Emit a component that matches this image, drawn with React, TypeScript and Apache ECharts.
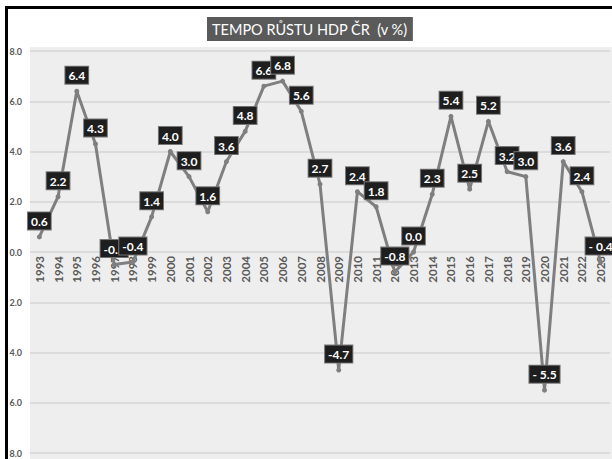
import React, { useEffect, useRef } from "react";
import * as echarts from "echarts";

const years = [
  "1993", "1994", "1995", "1996", "1997", "1998", "1999", "2000", "2001", "2002",
  "2003", "2004", "2005", "2006", "2007", "2008", "2009", "2010", "2011", "2012",
  "2013", "2014", "2015", "2016", "2017", "2018", "2019", "2020", "2021", "2022", "2023",
];
const growth = [
  0.6, 2.2, 6.4, 4.3, -0.5, -0.4, 1.4, 4.0, 3.0, 1.6,
  3.6, 4.8, 6.6, 6.8, 5.6, 2.7, -4.7, 2.4, 1.8, -0.8,
  0.0, 2.3, 5.4, 2.5, 5.2, 3.2, 3.0, -5.5, 3.6, 2.4, -0.4,
];
const pointLabels = [
  "0.6", "2.2", "6.4", "4.3", "-0.5", "-0.4", "1.4", "4.0", "3.0", "1.6",
  "3.6", "4.8", "6.6", "6.8", "5.6", "2.7", "-4.7", "2.4", "1.8", "-0.8",
  "0.0", "2.3", "5.4", "2.5", "5.2", "3.2", "3.0", "- 5.5", "3.6", "2.4", "- 0.4",
];
const titleText = "TEMPO RŮSTU HDP ČR  (v %)";

export default function App() {
  const ref = useRef<HTMLDivElement>(null);
  useEffect(() => {
    if (!ref.current) return;
    const chart = echarts.init(ref.current, null, { renderer: "svg" });
    chart.setOption({
      animation: false,
      backgroundColor: "#ffffff",
      textStyle: { fontFamily: "Lato" },
      title: {
        text: titleText,
        left: 207,
        top: 17,
        padding: [5, 5, 4, 5],
        backgroundColor: "#5a5a5a",
        textStyle: { color: "#ffffff", fontSize: 14.5, fontWeight: "normal", fontFamily: "Lato" },
      },
      graphic: [
        {
          type: "rect",
          z: -10,
          silent: true,
          shape: { x: 30, y: 47, width: 590, height: 420 },
          style: { fill: "#eeeeee" },
        },
        {
          type: "line",
          z: 100,
          shape: { x1: 5, y1: 7.5, x2: 612, y2: 7.5 },
          style: { stroke: "#000", lineWidth: 3 },
        },
        {
          type: "line",
          z: 100,
          shape: { x1: 6.5, y1: 6, x2: 6.5, y2: 459 },
          style: { stroke: "#000", lineWidth: 3 },
        },
      ],
      grid: { left: 30, right: 2, top: 51, bottom: 6, containLabel: false },
      xAxis: {
        type: "category",
        data: years,
        boundaryGap: true,
        position: "bottom",
        offset: -201,
        axisLine: { show: false, onZero: false },
        axisTick: { show: false },
        axisLabel: {
          rotate: 90,
          margin: 4,
          color: "#595959",
          fontSize: 11.5,
          fontWeight: "bold",
          fontFamily: "Lato",
          interval: 0,
        },
        splitLine: { show: false },
      },
      yAxis: {
        type: "value",
        min: -8,
        max: 8,
        interval: 2,
        axisLine: { show: false },
        axisTick: { show: false },
        axisLabel: {
          margin: 8,
          color: "#595959",
          fontSize: 9,
          fontWeight: "bold",
          fontFamily: "Lato",
          formatter: (v: number) => Math.abs(v).toFixed(1),
        },
        splitLine: { show: true, lineStyle: { color: "#d4d4d4", width: 1.5 } },
      },
      series: [
        {
          type: "line",
          data: growth,
          symbol: "circle",
          symbolSize: 5,
          lineStyle: { color: "#7f7f7f", width: 3 },
          itemStyle: { color: "#7f7f7f" },
          label: {
            show: true,
            position: "top",
            distance: 5,
            formatter: (p: any) => pointLabels[p.dataIndex],
            color: "#ffffff",
            fontSize: 12,
            fontWeight: "bold",
            fontFamily: "Lato",
            backgroundColor: "#1e1e1e",
            borderColor: "#777",
            borderWidth: 1,
            padding: [3, 3, 2, 3],
          },
        },
      ],
    });
    return () => chart.dispose();
  }, []);
  return (
    <div
      ref={ref}
      style={{ position: "fixed", left: 0, top: 0, width: 612, height: 459, background: "#fff" }}
    />
  );
}
